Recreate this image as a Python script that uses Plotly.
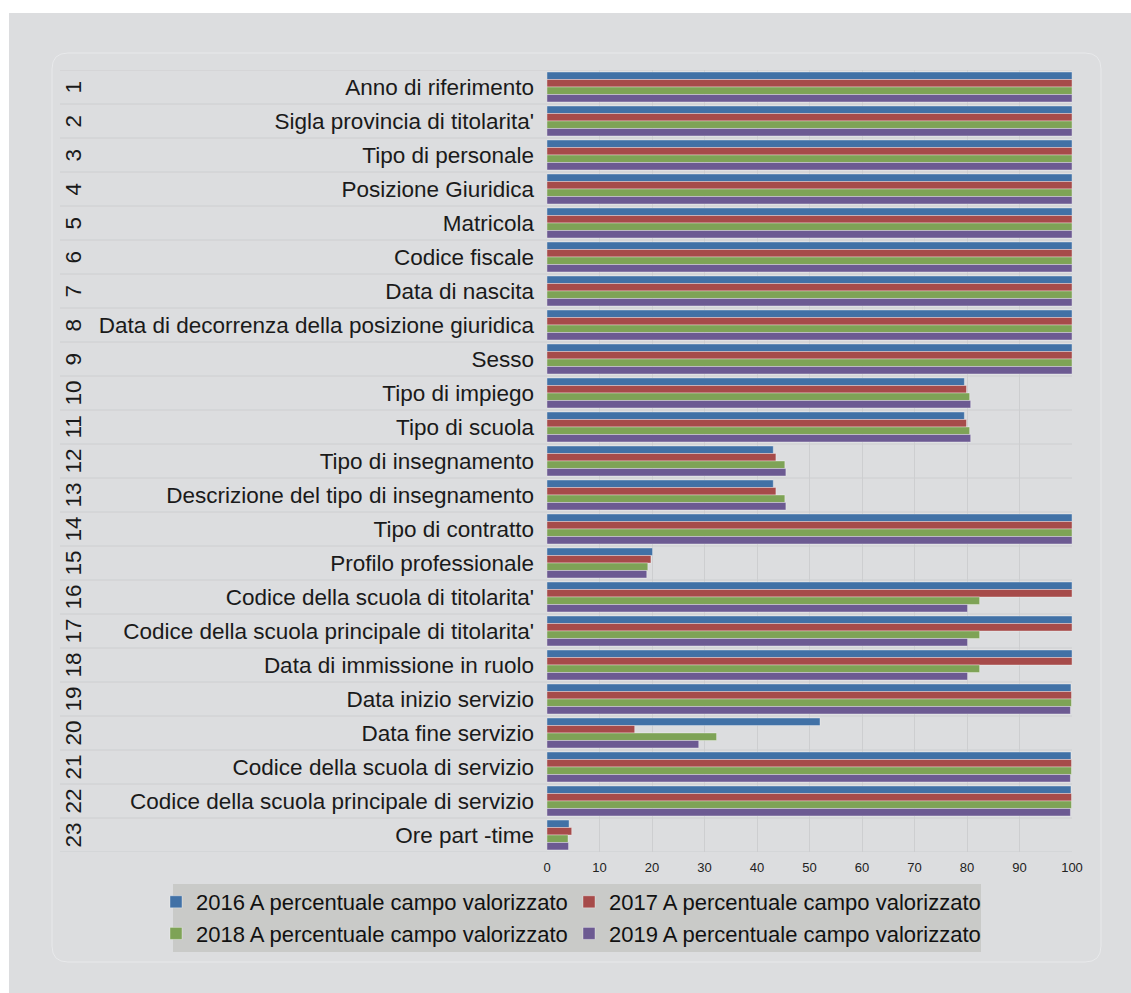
import plotly.graph_objects as go

numbers = [str(i) for i in range(1, 24)]
labels = [
    "Anno di riferimento",
    "Sigla provincia di titolarita'",
    "Tipo di personale",
    "Posizione Giuridica",
    "Matricola",
    "Codice fiscale",
    "Data di nascita",
    "Data di decorrenza della posizione giuridica",
    "Sesso",
    "Tipo di impiego",
    "Tipo di scuola",
    "Tipo di insegnamento",
    "Descrizione del tipo di insegnamento",
    "Tipo di contratto",
    "Profilo professionale",
    "Codice della scuola di titolarita'",
    "Codice della scuola principale di titolarita'",
    "Data di immissione in ruolo",
    "Data inizio servizio",
    "Data fine servizio",
    "Codice della scuola di servizio",
    "Codice della scuola principale di servizio",
    "Ore part -time",
]
series_names = [
    "2016 A percentuale campo valorizzato",
    "2017 A percentuale campo valorizzato",
    "2018 A percentuale campo valorizzato",
    "2019 A percentuale campo valorizzato",
]
v2016 = [100, 100, 100, 100, 100, 100, 100, 100, 100, 79.5, 79.5, 43.1, 43.1, 100,
         20.1, 100, 100, 100, 99.8, 52.0, 99.8, 99.8, 4.2]
v2017 = [100, 100, 100, 100, 100, 100, 100, 100, 100, 79.9, 79.9, 43.6, 43.6, 100,
         19.8, 100, 100, 100, 99.9, 16.7, 99.9, 99.9, 4.7]
v2018 = [100, 100, 100, 100, 100, 100, 100, 100, 100, 80.5, 80.5, 45.3, 45.3, 100,
         19.2, 82.4, 82.4, 82.4, 99.9, 32.3, 99.9, 99.9, 4.0]
v2019 = [100, 100, 100, 100, 100, 100, 100, 100, 100, 80.7, 80.7, 45.5, 45.5, 100,
         19.0, 80.1, 80.1, 80.1, 99.7, 28.9, 99.7, 99.7, 4.1]
x_ticks = [0, 10, 20, 30, 40, 50, 60, 70, 80, 90, 100]

colors = ["#4171A6", "#A64B4A", "#7EA356", "#6C5A92"]
values = [v2016, v2017, v2018, v2019]

W, H = 1131, 993
ML, MR, MT, MB = 547, 59, 70, 141
PW = W - ML - MR
PH = H - MT - MB


def px(x):
    return (x - ML) / PW


def py(y):
    return (H - MB - y) / PH


FONT = "Liberation Sans, Arial, sans-serif"
BG = "#DCDDDF"
FS = 22.5

fig = go.Figure()
for name, vals, col in zip(series_names, values, colors):
    fig.add_trace(go.Bar(
        y=labels, x=vals, name=name, orientation="h",
        marker=dict(color=col, line=dict(color="rgba(255,255,255,0.35)", width=1)),
    ))

shapes = []
# outer grey background with white strips top / left
shapes.append(dict(type="rect", xref="paper", yref="paper", x0=px(9), x1=px(W + 5),
                   y0=py(13), y1=py(H + 5), fillcolor=BG, line=dict(width=0), layer="below"))
# rounded inner frame
x0, x1, y0, y1, r = 52, 1101, 53, 962, 16
path = (f"M {px(x0 + r)},{py(y0)} L {px(x1 - r)},{py(y0)} Q {px(x1)},{py(y0)} {px(x1)},{py(y0 + r)} "
        f"L {px(x1)},{py(y1 - r)} Q {px(x1)},{py(y1)} {px(x1 - r)},{py(y1)} "
        f"L {px(x0 + r)},{py(y1)} Q {px(x0)},{py(y1)} {px(x0)},{py(y1 - r)} "
        f"L {px(x0)},{py(y0 + r)} Q {px(x0)},{py(y0)} {px(x0 + r)},{py(y0)} Z")
shapes.append(dict(type="path", xref="paper", yref="paper", path=path,
                   line=dict(color="#E8E9EB", width=1), fillcolor="rgba(0,0,0,0)", layer="below"))
# legend box
shapes.append(dict(type="rect", xref="paper", yref="paper", x0=px(173), x1=px(981),
                   y0=py(884), y1=py(952), fillcolor="#C9CAC8", line=dict(width=0), layer="below"))
# row separators
for i in range(len(labels) + 1):
    shapes.append(dict(type="line", xref="paper", yref="y", x0=px(60), x1=1,
                       y0=i - 0.5, y1=i - 0.5, line=dict(color="#CDCED0", width=1), layer="below"))

annotations = []
for num, lab in zip(numbers, labels):
    annotations.append(dict(text=num, x=px(58), y=lab, xref="paper", yref="y",
                            showarrow=False, textangle=-90,
                            font=dict(family=FONT, size=FS, color="#1a1a1a")))

fig.update_layout(
    width=W, height=H,
    margin=dict(l=ML, r=MR, t=MT, b=MB),
    paper_bgcolor="white",
    plot_bgcolor="rgba(0,0,0,0)",
    barmode="group",
    bargap=0.12,
    bargroupgap=0,
    shapes=shapes,
    annotations=annotations,
    font=dict(family=FONT, color="#1a1a1a"),
    xaxis=dict(range=[0, 100], tickvals=x_ticks, ticktext=[str(t) for t in x_ticks],
               showgrid=True, gridcolor="#CDCED0", gridwidth=1, zeroline=False,
               showline=False, ticks="", ticklabelstandoff=6,
               tickfont=dict(size=13, color="#222"), fixedrange=True),
    yaxis=dict(range=[len(labels) - 0.5, -0.5], type="category", showgrid=False,
               zeroline=False, showline=False, ticks="", ticklabelstandoff=12,
               tickfont=dict(size=FS, color="#1a1a1a")),
    legend=dict(orientation="h", x=px(156), y=py(881), xanchor="left", yanchor="top",
                bgcolor="rgba(0,0,0,0)", font=dict(family=FONT, size=22, color="#111"),
                entrywidth=368, entrywidthmode="pixels", traceorder="normal",
                itemclick=False, itemdoubleclick=False),
    showlegend=True,
)

fig.write_html("out.html")
